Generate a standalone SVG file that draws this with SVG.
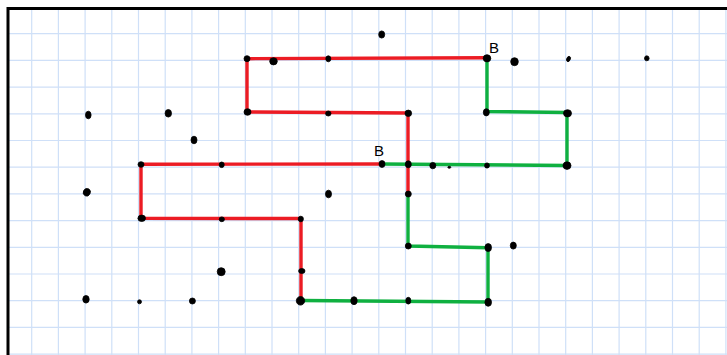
<svg xmlns="http://www.w3.org/2000/svg" width="727" height="355" viewBox="0 0 727 355">
<style>
.grid{stroke:#cfe0f8;stroke-width:1.2;fill:none}
.frame{stroke:#000;stroke-width:3;fill:none}
.red{stroke:#ec1c24;stroke-width:3.4;fill:none;stroke-linejoin:round;stroke-linecap:round}
.green{stroke:#0fb040;stroke-width:3.4;fill:none;stroke-linejoin:round;stroke-linecap:round}
.dot{fill:#000;stroke:#000;stroke-width:0.8}
.lbl{font-family:"Liberation Sans",Arial,sans-serif;font-size:15px;fill:#000}
</style>
<rect width="727" height="355" fill="#fff"/>
<g id="grid" class="grid">
<path d="M31.7 9V355M58.4 9V355M85.1 9V355M111.8 9V355M138.5 9V355M165.2 9V355M191.9 9V355M218.6 9V355M245.3 9V355M272 9V355M298.7 9V355M325.4 9V355M352.1 9V355M378.8 9V355M405.5 9V355M432.2 9V355M458.9 9V355M485.6 9V355M512.3 9V355M539 9V355M565.7 9V355M592.4 9V355M619.1 9V355M645.8 9V355M672.5 9V355M699.2 9V355M725.9 9V355"/>
<path d="M9 33.7H727M9 60.4H727M9 87.1H727M9 113.8H727M9 140.5H727M9 167.2H727M9 193.9H727M9 220.6H727M9 247.3H727M9 274H727M9 300.7H727M9 327.4H727M9 354.1H727"/>
</g>
<g id="frame" class="frame">
<path d="M8 355V8.5H727"/>
</g>
<g id="connectors">
<path class="red" d="M381 164L141 164.3L141 218.3L301 218.5L301 300.5"/>
<path class="red" d="M487 57.7L247 58.7L247 112L408 113L408 194"/>
<path class="green" d="M408 194L408 246L488 247.8L488 302L301 300.5"/>
<path class="green" d="M381 164L567 165.5L567 112.5L487 111.5L487 57.7"/>
</g>
<g id="dots" class="dot">
<ellipse cx="88.3" cy="115" rx="2.8" ry="3.8"/>
<ellipse cx="168.3" cy="113.3" rx="3.2" ry="3.8"/>
<ellipse cx="194" cy="140" rx="3" ry="3.8"/>
<ellipse cx="141" cy="164.5" rx="3" ry="2.8"/>
<ellipse cx="221.7" cy="164.8" rx="2.5" ry="2.8"/>
<ellipse cx="247" cy="58.7" rx="3" ry="3"/>
<ellipse cx="247.5" cy="112" rx="3.5" ry="3.3"/>
<ellipse cx="273.5" cy="61.3" rx="3.8" ry="3.6"/>
<ellipse cx="328.3" cy="58.8" rx="2.5" ry="3"/>
<ellipse cx="381.7" cy="34.5" rx="3" ry="3.6"/>
<ellipse cx="328.3" cy="113.5" rx="2.7" ry="2.5"/>
<ellipse cx="408.3" cy="113.3" rx="3.3" ry="3.2"/>
<ellipse cx="487" cy="58.3" rx="3.8" ry="3.6"/>
<ellipse cx="486.3" cy="112.3" rx="3" ry="3.6"/>
<ellipse cx="382" cy="164" rx="3" ry="3.4"/>
<ellipse cx="408.3" cy="164.3" rx="3" ry="3.5"/>
<ellipse cx="432.8" cy="165.6" rx="3" ry="3.2"/>
<ellipse cx="449.3" cy="167.3" rx="1.5" ry="1"/>
<ellipse cx="487" cy="165.5" rx="2.4" ry="2.6"/>
<ellipse cx="514.5" cy="61.7" rx="3.8" ry="4"/>
<ellipse cx="568.5" cy="59" rx="1.8" ry="2.8" transform="rotate(25 568.5 59)"/>
<ellipse cx="646.8" cy="58.3" rx="2.3" ry="2.5"/>
<ellipse cx="567.5" cy="113.3" rx="4" ry="3.6"/>
<ellipse cx="567" cy="165.6" rx="4" ry="3.8"/>
<ellipse cx="86.8" cy="192.3" rx="3.5" ry="3.8" transform="rotate(25 86.8 192.3)"/>
<ellipse cx="141.7" cy="218.3" rx="3.8" ry="3.2"/>
<ellipse cx="221.8" cy="219.3" rx="2.6" ry="2.4"/>
<ellipse cx="221.2" cy="271.7" rx="4" ry="4"/>
<ellipse cx="86" cy="299.3" rx="3.2" ry="3.8"/>
<ellipse cx="139.5" cy="301.8" rx="2" ry="2"/>
<ellipse cx="192.4" cy="301" rx="3" ry="3"/>
<ellipse cx="328.5" cy="194" rx="3" ry="3.8"/>
<ellipse cx="408.3" cy="194" rx="3" ry="3"/>
<ellipse cx="300.8" cy="219" rx="2.6" ry="2.8"/>
<ellipse cx="301.8" cy="271" rx="3.2" ry="2.5"/>
<ellipse cx="300.5" cy="300.8" rx="4.2" ry="4.3"/>
<ellipse cx="354" cy="300.7" rx="3.2" ry="4"/>
<ellipse cx="408.3" cy="300.7" rx="2.5" ry="3.4"/>
<ellipse cx="408.3" cy="246" rx="3" ry="3"/>
<ellipse cx="488.2" cy="247.6" rx="3.3" ry="4"/>
<ellipse cx="513.3" cy="245.6" rx="3" ry="3.5"/>
<ellipse cx="488.2" cy="302.3" rx="3.3" ry="4"/>
</g>
<g id="labels" class="lbl">
<text x="374" y="156">B</text>
<text x="489" y="53">B</text>
</g>
</svg>
